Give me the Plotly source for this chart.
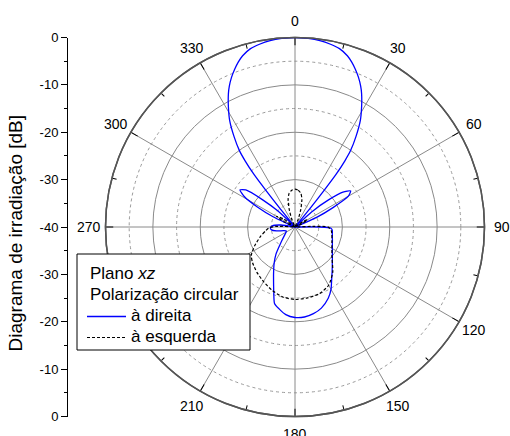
import math
import plotly.graph_objects as go

# ---------------- data (angle in degrees, clockwise from top; level in dB) -------------
rhcp_theta = [0, 4, 7.6, 11, 14, 17, 19, 21, 23, 25, 26.5, 29, 31.5, 34, 36, 37, 38, 38.5, 39, 39.5,
              45, 48, 51, 54, 57, 60, 63, 66, 69, 88, 90, 92, 95, 100, 110, 120, 130, 140, 145, 150,
              155, 162, 168, 174, 180, 186, 191, 195, 198, 200, 205, 210, 215, 220, 225, 235, 245,
              252, 258, 263, 268, 273, 278, 283, 291, 295, 298, 301, 304, 307, 310, 313, 316,
              320.5, 321, 321.5, 322, 323, 324, 326, 328.5, 331, 333.5, 335, 337, 339, 341, 343,
              346, 349, 352.4, 356, 360]
rhcp_db = [0, -0.1, -0.3, -0.7, -1.2, -2.2, -3.2, -4.4, -5.7, -7.2, -8.5, -11, -13.6, -17, -20,
           -22.5, -26, -30, -35, -40,
           -40, -35, -31, -27.5, -26, -27, -31, -35, -40, -40, -34.5, -32.4, -32.1, -32, -31.6,
           -30.9, -29.7, -27.8, -26.5, -24.8,
           -23.4, -22, -21.3, -20.9, -20.9, -21.4, -22.4, -23.3, -25.5, -26.8, -29.3, -31.2, -33,
           -35, -36.2, -37.5, -38,
           -37.5, -36, -35, -34.8, -35.2, -37, -40, -40, -35, -31, -27.5, -26, -27, -31, -35, -40,
           -40, -35, -30, -26, -22.5, -20, -17, -13.6, -11, -8.5, -7.2, -5.7, -4.4, -3.2, -2.2,
           -1.2, -0.7, -0.3, -0.1, 0]

lhcp_theta = [0, 5, 10, 14, 18, 22, 26, 50, 55, 60, 65, 70, 86, 88, 90, 96, 100, 110, 120, 130,
              140, 150, 160, 170, 180, 190, 200, 210, 220, 230, 237, 245, 255, 263, 268, 272, 276,
              290, 295, 300, 305, 310, 334, 338, 342, 346, 350, 355, 360]
lhcp_db = [-32, -32.2, -32.8, -34, -36, -38, -40, -40, -38, -37, -38.5, -40, -40, -36, -33,
           -32.3, -32.1, -31.7, -31, -29.8,
           -27.6, -25.8, -25, -24.8, -24.7, -25, -25.8, -26.7, -27.5, -28.3, -29, -30.6, -32.5,
           -33.8, -34.5, -36, -40,
           -40, -37.5, -35.5, -37, -40, -40, -38, -36, -34, -32.8, -32.2, -32]

series_names = ["à direita", "à esquerda"]
legend_title_lines = ["Plano <i>xz</i>", "Polarização circular"]
angle_ticks = list(range(0, 360, 30))
angle_minor = list(range(15, 360, 30))
ring_major = [-30, -20, -10]
ring_minor = [-35, -25, -15, -5]
left_tickvals = [-40, -30, -20, -10, 0, 10, 20, 30, 40]
left_ticktext = ["0", "-10", "-20", "-30", "-40", "-30", "-20", "-10", "0"]
axis_title = "Diagrama de irradiação [dB]"

# ---------------- geometry (screen pixels of the 510x436 window) ----------------
W, H = 510, 436
FONT = "Arial, Liberation Sans, sans-serif"
CX, CY, R = 295, 227, 189.5   # circle centre / radius on screen


def px(X):
    return X / W


def py(Y):
    return 1 - Y / H


dom_x = [px(CX - R), px(CX + R)]
dom_y = [py(CY + R), py(CY - R)]

fig = go.Figure()

# dummy trace so the bottom polar (dashed rings + minor ticks) renders
fig.add_trace(go.Scatterpolar(r=[-40], theta=[0], mode="markers", marker=dict(opacity=0),
                              subplot="polar", showlegend=False, hoverinfo="skip"))

fig.add_trace(go.Scatterpolar(r=rhcp_db, theta=rhcp_theta, mode="lines", name=series_names[0],
                              subplot="polar2", showlegend=False,
                              line=dict(color="#0000ff", width=1.3, shape="spline", smoothing=0.6)))
fig.add_trace(go.Scatterpolar(r=lhcp_db, theta=lhcp_theta, mode="lines", name=series_names[1],
                              subplot="polar2", showlegend=False,
                              line=dict(color="#000000", width=1.2, dash="3px,2px",
                                        shape="spline", smoothing=0.6)))

# dummy cartesian trace for the left dB axis
fig.add_trace(go.Scatter(x=[0.5], y=[0], mode="markers", marker=dict(opacity=0),
                         showlegend=False, hoverinfo="skip"))

common_radial = dict(range=[-40, 0], showticklabels=False, ticks="", showline=False)

# legend box geometry (screen px)
LX0, LY0, LX1, LY1 = 77, 254, 250, 350
TX = 87.5
line_y = [273, 294.5, 315.5, 336.5]

annotations = [dict(text=axis_title, textangle=-90, x=px(15.5), y=py(233),
                    xref="paper", yref="paper", xanchor="center", yanchor="middle",
                    showarrow=False, font=dict(size=19, family=FONT, color="black"))]

# angular tick labels (the one behind the legend box is hidden, as in the reference)
RL = 206.5
for a in angle_ticks:
    X = CX + RL * math.sin(math.radians(a))
    Y = CY - RL * math.cos(math.radians(a))
    if LX0 - 5 <= X <= LX1 and LY0 - 5 <= Y <= LY1 + 5:
        continue
    annotations.append(dict(text=str(a), x=px(X), y=py(Y), xref="paper", yref="paper",
                            xanchor="center", yanchor="middle", showarrow=False,
                            font=dict(size=14, family=FONT, color="black")))

# legend texts
for i, t in enumerate(legend_title_lines):
    annotations.append(dict(text=t, x=px(TX), y=py(line_y[i]), xref="paper", yref="paper",
                            xanchor="left", yanchor="middle", showarrow=False,
                            font=dict(size=17, family=FONT, color="black")))
for i, t in enumerate(series_names):
    annotations.append(dict(text=t, x=px(128.5), y=py(line_y[2 + i]), xref="paper", yref="paper",
                            xanchor="left", yanchor="middle", showarrow=False,
                            font=dict(size=17, family=FONT, color="black")))

shapes = [
    dict(type="rect", xref="paper", yref="paper", x0=px(LX0), x1=px(LX1), y0=py(LY1), y1=py(LY0),
         fillcolor="white", line=dict(color="black", width=1), layer="above"),
    dict(type="line", xref="paper", yref="paper", x0=px(87), x1=px(126),
         y0=py(line_y[2] + 1), y1=py(line_y[2] + 1),
         line=dict(color="#0000ff", width=1.3), layer="above"),
    dict(type="line", xref="paper", yref="paper", x0=px(87), x1=px(126),
         y0=py(line_y[3] + 1), y1=py(line_y[3] + 1),
         line=dict(color="black", width=1.2, dash="3px,2px"), layer="above"),
]

fig.update_layout(
    width=W, height=H,
    margin=dict(l=0, r=0, t=0, b=0),
    paper_bgcolor="white",
    plot_bgcolor="rgba(0,0,0,0)",
    font=dict(family=FONT, color="black"),
    showlegend=False,
    polar=dict(
        domain=dict(x=dom_x, y=dom_y),
        bgcolor="white",
        radialaxis=dict(**common_radial, tickvals=ring_minor, showgrid=True,
                        gridcolor="#9a9a9a", gridwidth=1, griddash="3px,3px"),
        angularaxis=dict(rotation=90, direction="clockwise", tickvals=angle_minor,
                         ticks="inside", ticklen=4, tickcolor="black", tickwidth=1,
                         showticklabels=False, showgrid=False, showline=True,
                         linecolor="#555555", linewidth=1.5),
    ),
    polar2=dict(
        domain=dict(x=dom_x, y=dom_y),
        bgcolor="rgba(0,0,0,0)",
        radialaxis=dict(**common_radial, tickvals=ring_major, showgrid=True,
                        gridcolor="#8a8a8a", gridwidth=1),
        angularaxis=dict(rotation=90, direction="clockwise", tickvals=angle_ticks,
                         showticklabels=False,
                         ticks="inside", ticklen=7, tickcolor="black", tickwidth=1,
                         showgrid=True, gridcolor="#8a8a8a", gridwidth=1,
                         showline=True, linecolor="#555555", linewidth=1.5),
    ),
    xaxis=dict(domain=[px(67), px(68)], range=[0, 1], visible=False, fixedrange=True),
    yaxis=dict(domain=dom_y, range=[-40, 40], anchor="free", position=px(67), side="left",
               tickvals=left_tickvals, ticktext=left_ticktext, ticks="outside", ticklen=6,
               tickcolor="black", showline=True, linecolor="black", linewidth=1,
               showgrid=False, zeroline=False, automargin=False,
               tickfont=dict(size=13, family=FONT, color="black"),
               minor=dict(dtick=5, ticks="outside", ticklen=3, tickcolor="black", showgrid=False)),
    shapes=shapes,
    annotations=annotations,
)

fig.write_html(
    "out.html",
    config={"displayModeBar": False},
    post_script="document.body.style.margin='0';document.body.style.overflow='hidden';",
)
